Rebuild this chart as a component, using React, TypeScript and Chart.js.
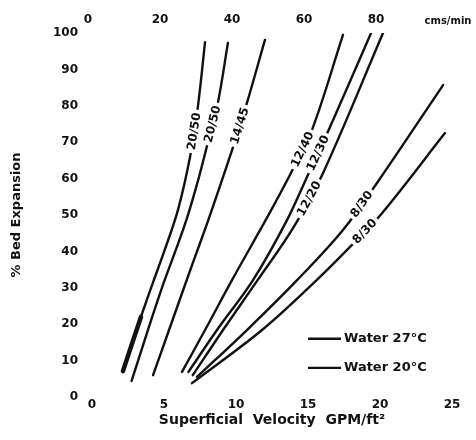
import React, { useEffect, useRef } from 'react';
import { Chart, registerables } from 'chart.js';

Chart.register(...registerables);

// Axis ticks
const velocityTicks = [0, 5, 10, 15, 20, 25];
const expansionTicks = [0, 10, 20, 30, 40, 50, 60, 70, 80, 90, 100];
const cmsTicks = [0, 20, 40, 60, 80, 100];
const cmsUnit = 'cms/min';
const xTitle = 'Superficial  Velocity  GPM/ft²';
const yTitle = '% Bed Expansion';

// Curve names (media sizes)
const curveNames = ['20/50', '20/50', '14/45', '12/40', '12/30', '12/20', '8/30', '8/30'];
// Expansion value at which each curve's label sits
const labelAt = [73, 75, 74.5, 68, 67, 54.5, 53, 45.5];

// Superficial velocity (GPM/ft²) and % bed expansion per curve
const v2050a = [2.15, 3.4, 4.24, 5.05, 5.97, 6.81, 7.36, 7.85];
const e2050a = [7.1, 22.0, 31.5, 40.4, 51.4, 66.0, 80.0, 97.5];
const v2050b = [2.75, 3.95, 5.0, 5.82, 6.6, 7.4, 8.0, 8.75, 9.44];
const e2050b = [4.4, 19.2, 31.6, 40.4, 49.2, 60.0, 69.2, 81.0, 97.3];
const v1445 = [4.24, 5.35, 6.53, 7.33, 8.13, 9.8, 10.76, 12.01];
const e1445 = [6.0, 18.4, 31.6, 40.4, 49.2, 68.7, 80.8, 98.1];
const v1240 = [6.25, 7.85, 9.72, 12.3, 13.85, 15.28, 17.43];
const e1240 = [6.9, 18.4, 32.1, 50.3, 61.8, 73.4, 99.5];
const v1230 = [6.7, 8.68, 11.18, 13.54, 15.05, 16.53, 19.38];
const e1230 = [6.9, 18.4, 32.1, 48.6, 61.5, 74.2, 100];
const v1220 = [7.0, 9.1, 11.5, 13.96, 16.04, 20.21];
const e1220 = [6.0, 18.4, 32.1, 46.4, 61.5, 100];
const v830a = [7.29, 10.76, 14.24, 17.43, 19.79, 24.38];
const e830a = [5.5, 18.4, 32.1, 45.9, 58.8, 85.7];
const v830b = [6.94, 11.81, 15.6, 18.06, 20.14, 24.51];
const e830b = [3.8, 18.4, 32.1, 41.8, 50.5, 72.5];

// Legend
const legendTexts = ['Water 27°C', 'Water 20°C'];
const legendAtV = 15.0;
const legendAtE = [16, 8];

const FONT = '"DejaVu Sans", sans-serif';
const INK = '#111';

const curves = [
  [v2050a, e2050a],
  [v2050b, e2050b],
  [v1445, e1445],
  [v1240, e1240],
  [v1230, e1230],
  [v1220, e1220],
  [v830a, e830a],
  [v830b, e830b],
];

const curveLabelPlugin = {
  id: 'curveLabels',
  afterDatasetsDraw(chart: any) {
    const ctx = chart.ctx;
    const yScale = chart.scales.y;
    ctx.save();
    ctx.font = `bold 12px ${FONT}`;
    ctx.textAlign = 'center';
    ctx.textBaseline = 'middle';
    chart.data.datasets.forEach((_ds: any, i: number) => {
      const meta = chart.getDatasetMeta(i);
      const pts = meta.data;
      const py = yScale.getPixelForValue(labelAt[i]);
      for (let k = 0; k < pts.length - 1; k++) {
        const p0 = pts[k];
        const p1 = pts[k + 1];
        if (py <= p0.y && py >= p1.y) {
          const t = (p0.y - py) / (p0.y - p1.y);
          const px = p0.x + t * (p1.x - p0.x);
          const ang = Math.atan2(p1.y - p0.y, p1.x - p0.x);
          const txt = curveNames[i];
          const w = ctx.measureText(txt).width;
          ctx.save();
          ctx.translate(px, py);
          ctx.rotate(ang);
          ctx.fillStyle = '#fff';
          ctx.fillRect(-w / 2 - 3, -6.5, w + 6, 13);
          ctx.fillStyle = INK;
          ctx.fillText(txt, 0, 0.5);
          ctx.restore();
          break;
        }
      }
    });
    ctx.restore();
  },
};

const legendPlugin = {
  id: 'tempLegend',
  afterDraw(chart: any) {
    const { ctx } = chart;
    const xs = chart.scales.x;
    const ys = chart.scales.y;
    ctx.save();
    ctx.font = `bold 13px ${FONT}`;
    ctx.textAlign = 'left';
    ctx.textBaseline = 'middle';
    legendTexts.forEach((t, i) => {
      const lx = xs.getPixelForValue(legendAtV);
      const ly = ys.getPixelForValue(legendAtE[i]);
      ctx.strokeStyle = INK;
      ctx.lineWidth = 2.4;
      ctx.beginPath();
      ctx.moveTo(lx, ly);
      ctx.lineTo(lx + 33, ly);
      ctx.stroke();
      ctx.fillStyle = INK;
      ctx.fillText(t, lx + 36, ly);
    });
    ctx.restore();
  },
};

const whiteBg = {
  id: 'whiteBg',
  beforeDraw(chart: any) {
    const ctx = chart.ctx;
    ctx.save();
    ctx.fillStyle = '#fff';
    ctx.fillRect(0, 0, chart.width, chart.height);
    ctx.restore();
  },
};

export default function App() {
  const ref = useRef<HTMLCanvasElement>(null);

  useEffect(() => {
    const canvas = ref.current;
    if (!canvas) return;

    const datasets = curves.map(([vx, ey], i) => ({
      label: curveNames[i],
      data: vx.map((v, k) => ({ x: v, y: ey[k] })),
      borderColor: INK,
      borderWidth: 2.4,
      pointRadius: 0,
      fill: false,
      tension: 0.35,
      borderCapStyle: 'round' as const,
      borderJoinStyle: 'round' as const,
      ...(i === 0
        ? { segment: { borderWidth: (c: any) => (c.p0DataIndex === 0 ? 4.5 : 2.4) } }
        : {}),
    }));

    const tickFont = { family: FONT, weight: 'bold' as const, size: 12 };

    const chart = new Chart(canvas, {
      type: 'line',
      data: { datasets },
      options: {
        responsive: false,
        animation: false,
        devicePixelRatio: 1,
        layout: { padding: { left: 0, right: 24, top: 0, bottom: 0 } },
        plugins: { legend: { display: false }, tooltip: { enabled: false } },
        scales: {
          x: {
            type: 'linear',
            position: 'bottom',
            min: 0,
            max: 25,
            afterBuildTicks: (s: any) => {
              s.ticks = velocityTicks.map((v) => ({ value: v }));
            },
            afterFit: (s: any) => {
              s.height = 43;
              s.paddingLeft = 0;
              s.paddingRight = 0;
            },
            grid: { display: false, drawTicks: false },
            border: { display: false },
            ticks: { font: tickFont, color: INK, padding: 1, maxRotation: 0, autoSkip: false },
            title: {
              display: true,
              text: xTitle,
              color: INK,
              font: { family: FONT, weight: 'bold', size: 14 },
              padding: { top: 0, bottom: 11 },
            },
          },
          x2: {
            type: 'linear',
            position: 'top',
            min: 0,
            max: 100,
            afterBuildTicks: (s: any) => {
              s.ticks = cmsTicks.map((v) => ({ value: v }));
            },
            afterFit: (s: any) => {
              s.height = 33;
              s.paddingLeft = 0;
              s.paddingRight = 0;
            },
            grid: { display: false, drawTicks: false },
            border: { display: false },
            ticks: {
              font: (c: any) =>
                c.tick && c.tick.value === 100
                  ? { family: FONT, weight: 'bold', size: 10 }
                  : tickFont,
              color: INK,
              padding: 6,
              labelOffset: -4,
              maxRotation: 0,
              autoSkip: false,
              callback: (v: any) => (v === 100 ? cmsUnit : String(v)),
            },
          },
          y: {
            type: 'linear',
            position: 'left',
            min: 0,
            max: 100,
            afterBuildTicks: (s: any) => {
              s.ticks = expansionTicks.map((v) => ({ value: v }));
            },
            afterFit: (s: any) => {
              s.width = 92;
              s.paddingTop = 0;
              s.paddingBottom = 0;
            },
            grid: { display: false, drawTicks: false },
            border: { display: false },
            ticks: { font: tickFont, color: INK, padding: 14, autoSkip: false },
            title: {
              display: true,
              text: yTitle,
              color: INK,
              font: { family: FONT, weight: 'bold', size: 13 },
              padding: { top: 9, bottom: 0 },
            },
          },
        },
      },
      plugins: [whiteBg, curveLabelPlugin, legendPlugin],
    } as any);

    return () => chart.destroy();
  }, []);

  return (
    <div style={{ position: 'fixed', left: 0, top: 0, width: 476, height: 440, background: '#fff' }}>
      <canvas ref={ref} width={476} height={440} style={{ display: 'block', width: 476, height: 440 }} />
    </div>
  );
}
